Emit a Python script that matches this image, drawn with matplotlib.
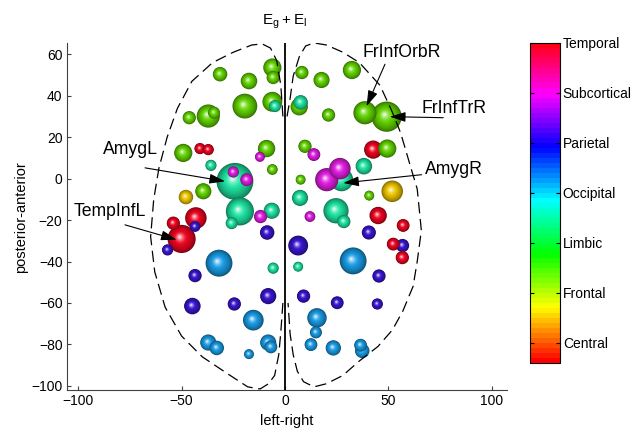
import numpy as np
import matplotlib
matplotlib.use("Agg")
import matplotlib.pyplot as plt
from matplotlib.patches import Circle
from matplotlib.colors import to_rgb, Normalize
import matplotlib.cm as cm

plt.rcParams['font.family'] = ['Liberation Sans', 'DejaVu Sans']

# ---------------- data ----------------
categories = ['Central', 'Frontal', 'Limbic', 'Occipital', 'Parietal', 'Subcortical', 'Temporal']
cat_colors = ['#eec400', '#62d400', '#1ee3a0', '#1a9ce4', '#3a16d0', '#e21ee2', '#ee0420']

# node positions (left-right, posterior-anterior), radius, category index
node_x = [-31.4, -17.4, -6.1, -5.7, 8.2, 17.7, 32.4, -46.3, -37.1, -34.3, -19.4, -6.1, -4.8,
          6.9, 7.6, 21.1, 38.7, 49.2, -49.2, -41.1, -37.1, -8.9, -12.1, -6.1, -35.8, -24.2,
          -25.0, -18.5, 9.7, 14.0, 42.7, 49.5, 38.2, 27.4, 20.2, 26.6, 7.6, 51.9, 40.8,
          -47.9, -39.5, -21.8, -25.8, -11.8, -6.4, 7.3, 12.1, 24.7, 28.5, 45.1, 57.2,
          -54.0, -43.1, -43.5, -50.0, -56.8, -8.6, 6.4, 40.6, 52.4, 56.9, 56.8,
          -31.9, -5.7, 6.4, 33.0, -43.5, 45.5, -44.8, -24.5, -8.1, 9.0, 25.3, 44.7,
          -15.3, 15.5, 15.0, -37.1, -33.0, -17.4, -8.1, -6.8, 12.6, 23.4, 36.6, 37.4]
node_y = [50.4, 47.1, 53.6, 48.8, 51.2, 47.6, 52.4, 29.4, 30.2, 31.8, 35.0, 37.1, 35.0,
          34.7, 36.8, 30.7, 31.8, 29.9, 12.4, 14.5, 14.0, 14.5, 10.5, 4.4, 6.4, -1.3,
          3.2, -0.5, 15.6, 11.6, 14.0, 14.5, 6.0, -0.5, -0.5, 4.8, -0.5, -6.1, -8.2,
          -8.9, -6.1, -15.8, -21.5, -18.3, -15.5, -9.3, -18.3, -15.5, -20.7, -17.8, -22.6,
          -21.5, -19.0, -23.1, -29.1, -34.4, -26.0, -32.3, -26.0, -31.6, -32.3, -38.1,
          -40.8, -43.2, -42.5, -39.7, -46.8, -47.0, -61.5, -60.5, -56.7, -56.7, -59.9, -60.5,
          -68.3, -67.2, -74.2, -79.1, -81.7, -84.7, -79.1, -81.2, -80.1, -81.7, -80.4, -83.1]
node_r = [3.5, 4.0, 4.4, 3.2, 3.2, 3.9, 4.4, 3.2, 5.6, 2.9, 6.0, 4.8, 2.9,
          4.2, 3.5, 3.2, 5.6, 7.3, 4.4, 2.7, 2.7, 4.2, 2.4, 2.6, 2.7, 8.9,
          2.7, 3.1, 3.2, 3.1, 4.4, 4.4, 4.0, 5.6, 5.6, 5.2, 2.4, 5.2, 2.4,
          3.5, 3.9, 6.8, 2.9, 3.2, 3.9, 3.9, 2.6, 6.1, 3.2, 4.2, 3.1,
          3.2, 5.2, 2.6, 6.8, 2.7, 3.5, 4.8, 3.4, 3.1, 3.2, 3.2,
          6.5, 2.7, 2.4, 6.5, 3.2, 3.2, 4.0, 3.2, 3.9, 3.2, 3.1, 2.7,
          5.0, 4.7, 2.9, 3.9, 3.5, 2.4, 3.9, 3.1, 3.1, 3.7, 3.1, 3.5]
node_cat = [1, 1, 1, 1, 1, 1, 1, 1, 1, 1, 1, 1, 2,
            1, 2, 1, 1, 1, 1, 6, 6, 1, 5, 1, 2, 2,
            5, 5, 1, 5, 6, 1, 2, 2, 5, 5, 1, 0, 1,
            0, 1, 2, 2, 5, 2, 2, 5, 2, 2, 6, 6,
            6, 6, 4, 6, 4, 4, 4, 4, 6, 4, 6,
            3, 2, 2, 3, 4, 4, 4, 4, 4, 4, 4, 4,
            3, 3, 3, 3, 3, 3, 3, 3, 3, 3, 3, 3]

# brain outline (dashed), left and right hemispheres
left_x = [-1, -2, -4, -7, -11, -16, -25, -35, -45, -52, -57, -61, -63.5, -65, -63, -58,
          -50, -40, -28, -18, -12, -8, -5, -3, -2, -1]
left_y = [30, 45, 57, 63, 65, 64.5, 61, 56, 47, 34, 20, 5, -10, -28, -45, -62,
          -76, -86, -94, -100.5, -101.5, -99, -95, -85, -74, -60]
right_x = [1, 2.4, 4, 7, 10, 14, 20, 28, 36, 46, 52, 56, 61, 64, 66, 64, 62, 57, 52,
           45, 36, 28, 20, 14, 9, 6, 4, 2.5, 1.5]
right_y = [30, 38, 49.5, 59, 64, 65.5, 64.5, 61, 56, 45, 32, 22, 5, -5, -25, -40, -52, -64, -73,
           -81, -88, -95, -99, -100.5, -98, -93, -85, -75, -60]

# annotations: label, text position, arrow start, arrow tip
ann_labels = ['FrInfOrbR', 'FrInfTrR', 'AmygL', 'AmygR', 'TempInfL']
ann_text_x = [37.7, 66.1, -87.9, 67.7, -102.4]
ann_text_y = [61.0, 34.0, 14.0, 4.4, -15.8]
ann_from_x = [48.4, 76.6, -67.7, 66.1, -77.4]
ann_from_y = [55.2, 29.4, 5.2, 1.9, -22.3]
ann_to_x = [39.5, 50.8, -29.0, 28.2, -52.4]
ann_to_y = [35.0, 29.9, -1.3, -2.1, -29.5]

# ---------------- figure ----------------
fig = plt.figure(figsize=(6.36, 4.34), dpi=100)
ax = fig.add_axes([0.1049, 0.1014, 0.6918, 0.7988])
ax.set_xlim(-105.6, 107.3)
ax.set_ylim(-102, 65.3)


def draw_sphere(x, y, r, color, z):
    base = np.array(to_rgb(color))
    N = 14
    for k in range(N):
        t = k / (N - 1)
        rad = r * (1 - 0.9 * t)
        cx = x - 0.14 * r * t
        cy = y + 0.14 * r * t
        shade = 0.55 + 0.45 * min(1.0, t / 0.6) ** 0.7
        col = base * shade
        w = max(0.0, (t - 0.55) / 0.45) ** 1.5 * 0.8
        col = col * (1 - w) + w
        ax.add_patch(Circle((cx, cy), rad, fc=np.clip(col, 0, 1), ec='none',
                            zorder=z + k * 0.0005))


order = sorted(range(len(node_x)), key=lambda i: -node_r[i])
for rank, i in enumerate(order):
    draw_sphere(node_x[i], node_y[i], node_r[i], cat_colors[node_cat[i]], 2 + rank * 0.01)

dash = (0, (9, 4.5))
ax.plot(left_x, left_y, color='k', lw=0.9, linestyle=dash, zorder=10)
ax.plot(right_x, right_y, color='k', lw=0.9, linestyle=dash, zorder=10)
ax.axvline(0, color='k', lw=1.3, zorder=10)

for lab, tx, ty, fx, fy, px, py in zip(ann_labels, ann_text_x, ann_text_y,
                                       ann_from_x, ann_from_y, ann_to_x, ann_to_y):
    ax.text(tx, ty, lab, ha='left', va='center', fontsize=12.7, zorder=12)
    ax.annotate('', xy=(px, py), xytext=(fx, fy),
                arrowprops=dict(arrowstyle='-|>,head_length=0.95,head_width=0.3',
                                color='k', lw=0.8, mutation_scale=10,
                                shrinkA=0, shrinkB=0), zorder=12)

for s in ['top', 'right']:
    ax.spines[s].set_visible(False)
for s in ['left', 'bottom']:
    ax.spines[s].set_color('#404040')
    ax.spines[s].set_linewidth(0.8)
ax.set_xticks([-100, -50, 0, 50, 100])
ax.set_yticks(np.arange(-100, 61, 20))
ax.tick_params(direction='in', length=3, labelsize=10, pad=3, colors='#404040',
               labelcolor='k')
ax.set_xlabel('left-right', fontsize=10.5, labelpad=4)
ax.set_ylabel('posterior-anterior', fontsize=10.5, labelpad=2)
fig.text(285 / 636, 1 - 25 / 434, r'$\mathregular{E_g+E_l}$', ha='center',
         va='baseline', fontsize=11)

# ---------------- colorbar ----------------
cax = fig.add_axes([530 / 636, (434 - 363.3) / 434, 30 / 636, 320.6 / 434])
norm = Normalize(vmin=0.59, vmax=7)
sm = cm.ScalarMappable(norm=norm, cmap=plt.get_cmap('hsv', 64))
cb = fig.colorbar(sm, cax=cax, ticks=np.arange(1, 8))
cb.set_ticklabels(categories)
cb.outline.set_linewidth(0.8)
cax.tick_params(direction='in', length=3, left=True, right=True, labelsize=10, pad=2)

fig.savefig('out.png', dpi=100)
